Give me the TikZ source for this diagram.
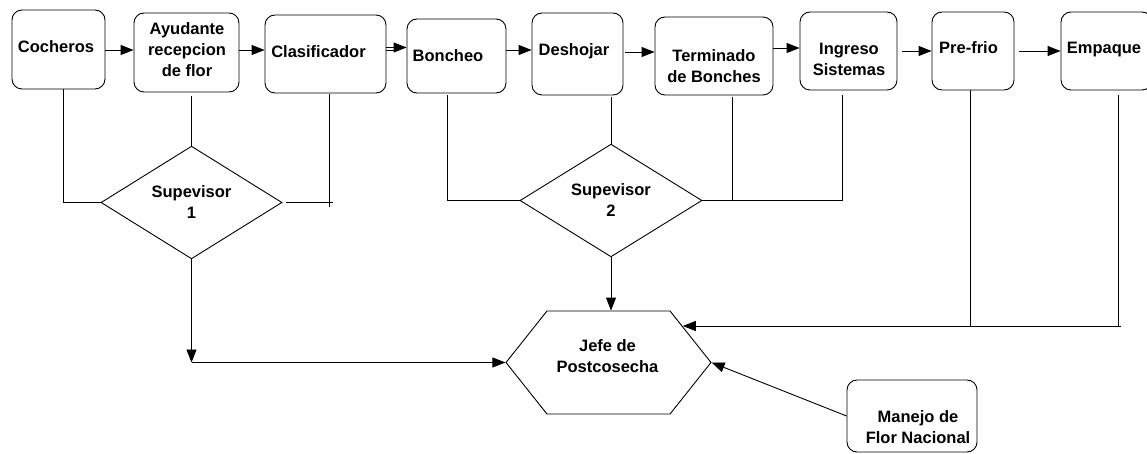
\documentclass[tikz,border=0pt]{standalone}
\usepackage{fontspec}
\setmainfont{Liberation Sans}
\usetikzlibrary{arrows.meta,shapes.geometric,shapes.symbols,calc}

\begin{document}
\begin{tikzpicture}[x=1pt,y=-1pt,
  every node/.style={font=\fontsize{16.5}{21}\selectfont\bfseries},
  wire/.style={line width=0.9pt, draw=black},
  box/.style={draw, line width=0.9pt, rounded corners=10pt, inner sep=0pt, fill=white},
  lbl/.style={align=center, inner sep=0pt},
  arr/.style={wire, -{Triangle[length=13pt,width=10pt]}},
  decision/.style={diamond, draw, line width=0.9pt, inner sep=0pt, align=center,
    minimum width=181pt, minimum height=95pt}]

\useasboundingbox[fill=white] (0,0) rectangle (1147,454);

% process boxes, top row
\node[box, minimum width=93pt,  minimum height=79pt] (coch)  at (58.5,49.5) {};
\node[lbl] at (56,47) {Cocheros};
\node[box, minimum width=105pt, minimum height=79pt] (ayud)  at (186.5,52.5) {};
\node[lbl] at (187,50) {Ayudante\\recepcion\\de flor};
\node[box, minimum width=121pt, minimum height=78pt] (clas)  at (325.5,54) {};
\node[lbl] at (318.5,52) {Clasificador};
\node[box, minimum width=99pt,  minimum height=74pt] (bonch) at (456.5,56) {};
\node[lbl] at (448,55.5) {Boncheo};
\node[box, minimum width=91pt,  minimum height=82pt] (desh)  at (577.5,54) {};
\node[lbl] at (574,51.5) {Deshojar};
\node[box, minimum width=118pt, minimum height=78pt] (term)  at (714,56) {};
\node[lbl] at (714,66) {Terminado\\de Bonches};
\node[box, minimum width=97pt,  minimum height=78pt] (ingr)  at (848.5,51) {};
\node[lbl] at (849,59.5) {Ingreso\\Sistemas};
\node[box, minimum width=82pt,  minimum height=78pt] (pref)  at (973,51) {};
\node[lbl] at (968.5,48) {Pre-frio};
\node[box, minimum width=91pt,  minimum height=78pt] (empq)  at (1106.5,51) {};
\node[lbl] at (1104,49.5) {Empaque};

% supervisors
\node[decision] (sv1) at (191.5,202.5) {Supevisor\\1};
\node[decision, minimum width=182pt] (sv2) at (611,200.5) {Supevisor\\2};

% head of post-harvest
\node[signal, signal to=west and east, signal pointer angle=103, draw, line width=0.9pt,
      inner sep=0pt, minimum width=205pt, minimum height=103pt] (jefe) at (608.5,362.5) {};
\node[lbl] at (607.5,356.5) {Jefe de\\Postcosecha};

% national flower handling
\node[box, minimum width=130pt, minimum height=72pt] (manej) at (912,416) {};
\node[lbl] at (918,427) {Manejo de\\Flor Nacional};

% process flow
\draw[arr] (coch.east |- 0,50) -- (ayud.west |- 0,50);
\draw[arr] (ayud.east |- 0,50) -- (clas.west |- 0,50);
\draw[arr] (clas.east |- 0,47.5) -- (bonch.west |- 0,47.5);
\draw[wire] (clas.east |- 0,50.5) -- ++(12,0);
\draw[arr] (bonch.east |- 0,50) -- (desh.west |- 0,50);
\draw[arr, shorten <=2pt] (desh.east |- 0,52) -- (term.west |- 0,52);
\draw[arr] (term.east |- 0,48) -- (ingr.west |- 0,48);
\draw[arr, shorten <=5pt] (ingr.east |- 0,51) -- (pref.west |- 0,51);
\draw[arr, shorten <=5pt] (pref.east |- 0,51) -- (empq.west |- 0,51);

% reporting lines to supervisor 1
\coordinate (c1) at (329,207);
\draw[wire] (coch.south -| 63,0) |- (sv1.west);
\draw[wire, shorten <=4pt] (sv1.north |- ayud.south) -- (sv1.north);
\draw[wire, shorten <=1pt] (clas.south -| c1) -- (c1);
\draw[wire, shorten <=4pt] (sv1.east) -- (sv1.east -| 333,0);

% reporting lines to supervisor 2
\draw[wire, shorten <=2pt] (bonch.south -| 447,0) |- (sv2.west);
\draw[wire, shorten <=2pt] (sv2.north |- desh.south) -- (sv2.north);
\draw[wire, shorten <=2pt] (term.south -| 732,0) -- (sv2.east -| 732,0);
\draw[wire, shorten <=5pt] (ingr.south -| 842,0) |- (sv2.east);

% supervisors to head
\draw[arr] (sv1.south) -- (sv1.south |- jefe.west);
\draw[arr] (sv1.south |- jefe.west) -- (jefe.west);
\draw[arr] (sv2.south) -- (sv2.south |- jefe.north);

% pre-cooling and packing to head
\coordinate (busR) at (1121,326);
\draw[wire] (pref.south -| 970,0) -- (busR -| 970,0);
\draw[wire, shorten <=5pt] (empq.south -| 1118,0) -- (busR -| 1118,0);
\draw[arr] (busR) -- (jefe.26 |- busR);

% national flower handling to head
\draw[arr] (manej.west) -- (jefe.east);
\end{tikzpicture}
\end{document}
